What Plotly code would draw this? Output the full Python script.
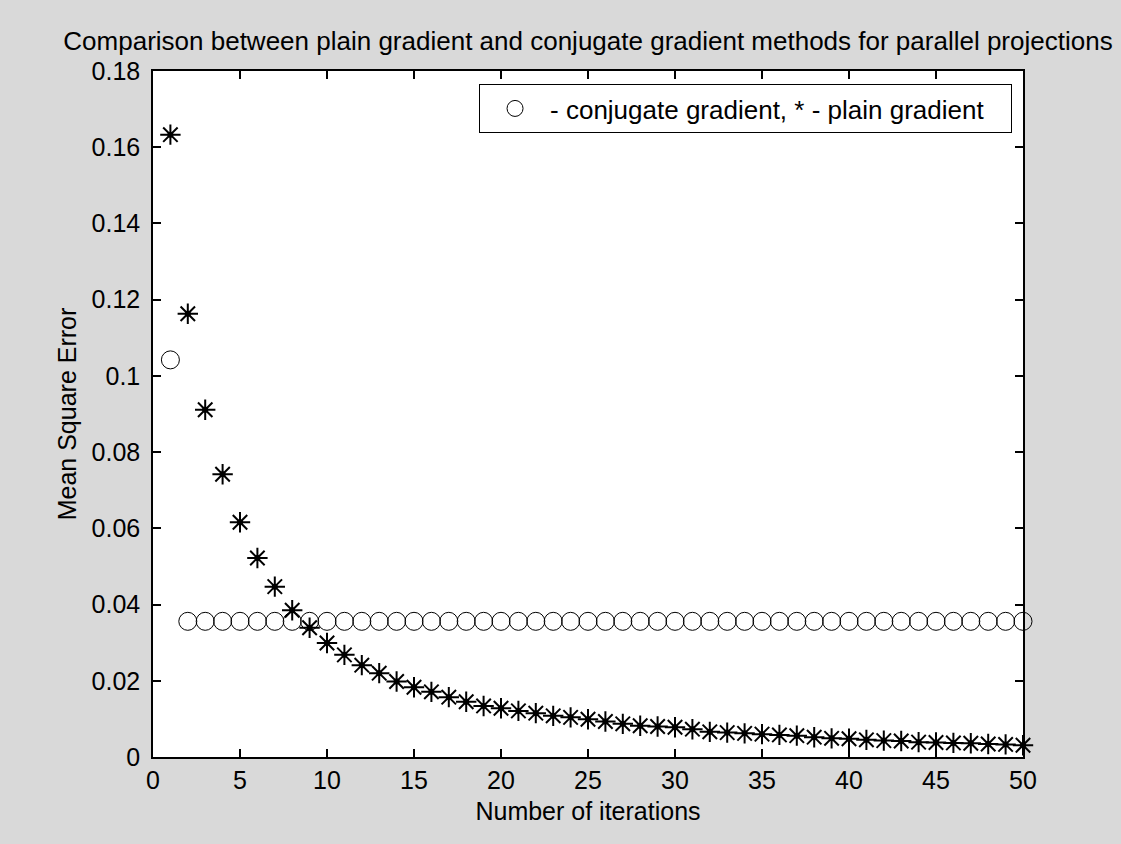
import plotly.graph_objects as go

# Iteration index for both solvers
iterations = list(range(1, 51))

# Mean square error per iteration, conjugate gradient method
conjugate_mse = [0.1042] + [0.0356] * 49

# Mean square error per iteration, plain gradient method
plain_mse = [
    0.1633, 0.1163, 0.0911, 0.0742, 0.0616, 0.0522, 0.0447, 0.0385, 0.0339, 0.0299,
    0.0268, 0.0241, 0.0220, 0.0198, 0.0183, 0.0171, 0.0157, 0.0145, 0.0134, 0.0128,
    0.0121, 0.0115, 0.0108, 0.0104, 0.0099, 0.0093, 0.0087, 0.0082, 0.0080, 0.0078,
    0.0073, 0.0066, 0.0064, 0.0062, 0.0060, 0.0058, 0.0056, 0.0052, 0.0049, 0.0048,
    0.0045, 0.0043, 0.0042, 0.0039, 0.0038, 0.0037, 0.0036, 0.0034, 0.0033, 0.0031,
]

x_ticks = [0, 5, 10, 15, 20, 25, 30, 35, 40, 45, 50]
y_ticks = [0, 0.02, 0.04, 0.06, 0.08, 0.1, 0.12, 0.14, 0.16, 0.18]
y_tick_text = ["0", "0.02", "0.04", "0.06", "0.08", "0.1", "0.12", "0.14", "0.16", "0.18"]

FONT = "Liberation Sans, Arial, sans-serif"

fig = go.Figure()

fig.add_trace(go.Scatter(
    x=iterations, y=conjugate_mse, mode="markers",
    # trailing no-break spaces keep some room before the legend border
    name="- conjugate gradient, * - plain gradient\u00a0\u00a0\u00a0",
    marker=dict(symbol="circle-open", size=18, color="black", line=dict(width=1, color="black")),
    cliponaxis=False,
))

fig.add_trace(go.Scatter(
    x=iterations, y=plain_mse, mode="markers", showlegend=False,
    marker=dict(symbol="asterisk-open", size=17, color="black", line=dict(width=2, color="black")),
    cliponaxis=False,
))
# filled centre of each asterisk
fig.add_trace(go.Scatter(
    x=iterations, y=plain_mse, mode="markers", showlegend=False,
    marker=dict(symbol="circle", size=6, color="black"),
    cliponaxis=False,
))

axis_common = dict(
    showline=True, linecolor="black", linewidth=1.5, mirror="ticks",
    ticks="inside", ticklen=8, tickwidth=1.5, tickcolor="black",
    showgrid=False, zeroline=False,
    tickfont=dict(family=FONT, size=25, color="black"),
    title_font=dict(family=FONT, size=25, color="black"),
)

fig.update_xaxes(
    range=[0, 50], tickvals=x_ticks, ticktext=[str(v) for v in x_ticks],
    title_text="Number of iterations", title_standoff=10, ticklabelstandoff=0,
    **axis_common,
)
fig.update_yaxes(
    range=[0, 0.18], tickvals=y_ticks, ticktext=y_tick_text,
    title_text="Mean Square Error", title_standoff=8, ticklabelstandoff=6,
    **axis_common,
)

fig.update_layout(
    width=1121, height=844,
    margin=dict(l=153, r=98, t=71, b=87),
    paper_bgcolor="#d9d9d9",
    plot_bgcolor="white",
    title=dict(
        text="Comparison between plain gradient and conjugate gradient methods for parallel projections",
        font=dict(family=FONT, size=26, color="black"),
        x=0.5, xref="paper", xanchor="center", y=0.951, yanchor="middle",
    ),
    legend=dict(
        x=0.9874, y=0.981, xanchor="right", yanchor="top",
        bgcolor="white", bordercolor="black", borderwidth=1,
        font=dict(family=FONT, size=26, color="black"),
        itemwidth=60,
    ),
    showlegend=True,
)

fig.write_html("out.html")
